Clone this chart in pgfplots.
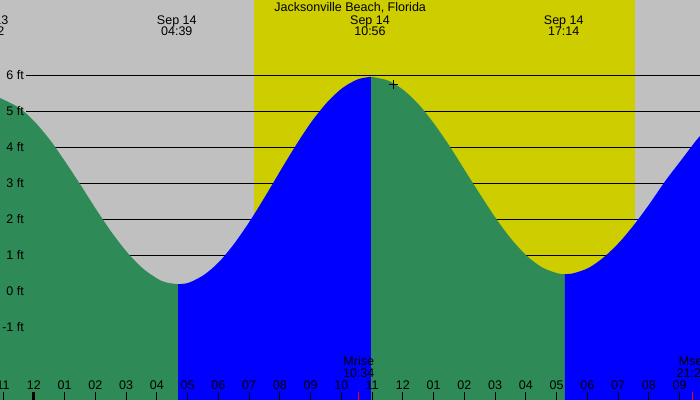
\documentclass[border=0pt]{standalone}
\usepackage{fontspec}
\setmainfont{Liberation Sans}
\usepackage{pgfplots}
\usepackage{pgfplotstable}
\pgfplotsset{compat=1.18}

\definecolor{nightgray}{RGB}{192,192,192}
\definecolor{dayyellow}{RGB}{205,205,0}
\definecolor{ebbgreen}{RGB}{46,139,87}
\definecolor{floodblue}{RGB}{0,0,255}

% hours after midnight Sep 14, height in ft
\pgfplotstableread{
h ft
-1.099 5.36
-0.46 5.08
0.04 4.69
0.54 4.18
1.04 3.57
1.54 2.92
2.04 2.25
2.54 1.62
3.04 1.07
3.54 0.63
4.04 0.33
4.34 0.23
4.69 0.19
}\ebbA
\pgfplotstableread{
h ft
4.69 0.19
5.04 0.23
5.54 0.45
6.04 0.82
6.54 1.34
7.04 1.96
7.54 2.65
8.04 3.37
8.54 4.07
9.04 4.71
9.54 5.24
10.04 5.64
10.54 5.88
10.973 5.95
}\floodB
\pgfplotstableread{
h ft
10.973 5.95
11.54 5.84
12.04 5.57
12.54 5.16
13.04 4.62
13.54 4.00
14.04 3.32
14.54 2.65
15.04 2.00
15.54 1.43
16.04 0.97
16.54 0.65
17.04 0.49
17.273 0.47
}\ebbC
\pgfplotstableread{
h ft
17.273 0.47
17.54 0.49
18.04 0.64
18.54 0.94
19.04 1.35
19.54 1.86
20.04 2.44
20.54 3.06
21.04 3.62
21.54 4.18
21.665 4.30
}\floodD

\newcommand{\lab}{\fontsize{12.5}{14}\selectfont}

\begin{document}
\begin{tikzpicture}[font=\lab]
\begin{axis}[
  scale only axis, width=700pt, height=400pt,
  xmin=-1.099, xmax=21.665, ymin=-3.028, ymax=8.083,
  axis line style={draw=none},
  axis background/.style={fill=nightgray},
  axis on top,
  xtick={-1,0,...,21},
  xticklabels={11,12,01,02,03,04,05,06,07,08,09,10,11,12,01,02,03,04,05,06,07,08,09},
  xtick pos=left,
  tick align=inside,
  major tick length=8pt,
  xtick style={black, line width=0.8pt},
  xticklabel style={anchor=base, yshift=10pt, inner sep=0pt},
  ytick={-1,0,...,6},
  yticklabels={-1 ft,0 ft,1 ft,2 ft,3 ft,4 ft,5 ft,6 ft},
  ytick style={draw=none},
  yticklabel style={anchor=east, xshift=24pt, inner sep=0pt},
]
\addplot[fill=dayyellow, draw=none] coordinates {(7.161,-3.1) (19.551,-3.1) (19.551,8.2) (7.161,8.2)};
\pgfplotsinvokeforeach{-1,...,6}{
  \addplot[black, line width=0.8pt] coordinates {(-0.254,#1) (21.7,#1)};
}

% tide areas, closed down to the bottom edge
\addplot[fill=ebbgreen, draw=none, smooth] table {\ebbA}
  -- (axis cs:4.69,-3.1) -- (axis cs:-1.099,-3.1) -- cycle;
\addplot[fill=floodblue, draw=none, smooth] table {\floodB}
  -- (axis cs:10.973,-3.1) -- (axis cs:4.69,-3.1) -- cycle;
\addplot[fill=ebbgreen, draw=none, smooth] table {\ebbC}
  -- (axis cs:17.273,-3.1) -- (axis cs:10.973,-3.1) -- cycle;
\addplot[fill=floodblue, draw=none, smooth] table {\floodD}
  -- (axis cs:21.665,-3.1) -- (axis cs:17.273,-3.1) -- cycle;

% midnight, moonrise and moonset ticks
\addplot[black, line width=3pt] coordinates {(0,-3.1) (0,-2.797)};
\addplot[red, line width=1pt] coordinates {(10.567,-3.1) (10.567,-2.797)};
\addplot[red, line width=1pt] coordinates {(21.417,-3.1) (21.417,-2.797)};

% current time
\addplot[only marks, black, mark=+, mark size=4.5pt, mark options={line width=0.8pt}] coordinates {(11.69,5.74)};

\node[anchor=base] at (axis cs:10.29,7.764) {Jacksonville Beach, Florida};
\node[anchor=base] at (axis cs:-1.47,7.408) {Sep 13};
\node[anchor=base] at (axis cs:-1.47,7.092) {22:32};
\node[anchor=base] at (axis cs:4.65,7.408) {Sep 14};
\node[anchor=base] at (axis cs:4.65,7.092) {04:39};
\node[anchor=base] at (axis cs:10.933,7.408) {Sep 14};
\node[anchor=base] at (axis cs:10.933,7.092) {10:56};
\node[anchor=base] at (axis cs:17.233,7.408) {Sep 14};
\node[anchor=base] at (axis cs:17.233,7.092) {17:14};
\node[anchor=base] at (axis cs:10.567,-2.083) {Mrise};
\node[anchor=base] at (axis cs:10.567,-2.408) {10:34};
\node[anchor=base] at (axis cs:21.417,-2.083) {Mset};
\node[anchor=base] at (axis cs:21.417,-2.408) {21:25};
\end{axis}
\pgfresetboundingbox
\useasboundingbox (current axis.south west) rectangle (current axis.north east);
\end{tikzpicture}
\end{document}
